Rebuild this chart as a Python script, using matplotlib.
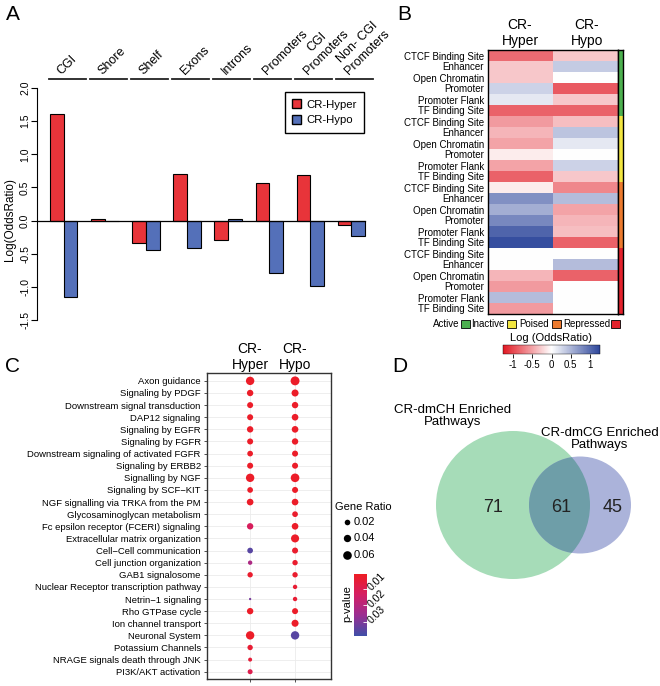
import numpy as np
import matplotlib
matplotlib.use('Agg')
import matplotlib.pyplot as plt
import matplotlib.transforms as mtransforms
from matplotlib.colors import LinearSegmentedColormap, ListedColormap
from matplotlib.patches import Rectangle, Ellipse, Patch

plt.rcParams['font.family'] = ['Liberation Sans', 'DejaVu Sans']

# ---- data -------------------------------------------------------------
# panel A
regions = ["CGI", "Shore", "Shelf", "Exons", "Introns", "Promoters",
           "CGI\nPromoters", "Non- CGI\nPromoters"]
a_hyper = [1.60, 0.03, -0.34, 0.71, -0.30, 0.56, 0.69, -0.06]
a_hypo = [-1.16, 0.0, -0.45, -0.42, 0.02, -0.79, -0.99, -0.23]

# panel B
states = ["Active", "Inactive", "Poised", "Repressed"]
features = ["CTCF Binding Site", "Enhancer", "Open Chromatin", "Promoter",
            "Promoter Flank", "TF Binding Site"]
b_hyper = [-0.80, -0.30, -0.30, 0.30, 0.15, -0.85,
           -0.55, -0.40, -0.50, -0.10, -0.50, -0.85,
           -0.10, 0.75, 0.55, 0.80, 1.05, 1.20,
           0.00, 0.00, -0.40, -0.55, 0.45, -0.55]
b_hypo = [-0.30, 0.35, 0.00, -0.90, -0.30, -0.85,
          -0.35, 0.40, 0.15, 0.00, 0.30, -0.30,
          -0.65, 0.45, -0.50, -0.40, -0.35, -0.85,
          0.00, 0.45, -0.85, 0.00, 0.00, 0.00]

# panel C
pathways = ["Axon guidance", "Signaling by PDGF", "Downstream signal transduction",
            "DAP12 signaling", "Signaling by EGFR", "Signaling by FGFR",
            "Downstream signaling of activated FGFR", "Signaling by ERBB2",
            "Signalling by NGF", "Signaling by SCF\u2212KIT",
            "NGF signalling via TRKA from the PM", "Glycosaminoglycan metabolism",
            "Fc epsilon receptor (FCERI) signaling", "Extracellular matrix organization",
            "Cell\u2212Cell communication", "Cell junction organization",
            "GAB1 signalosome", "Nuclear Receptor transcription pathway",
            "Netrin\u22121 signaling", "Rho GTPase cycle", "Ion channel transport",
            "Neuronal System", "Potassium Channels", "NRAGE signals death through JNK",
            "PI3K/AKT activation"]
nan = np.nan
c_hyper_ratio = [0.056, 0.028, 0.024, 0.024, 0.028, 0.024, 0.021, 0.024, 0.056, 0.021,
                 0.031, nan, 0.028, nan, 0.021, 0.011, 0.018, nan, 0.005, 0.028,
                 nan, 0.056, 0.018, 0.009, 0.015]
c_hyper_p = [0.002, 0.002, 0.002, 0.002, 0.002, 0.002, 0.002, 0.002, 0.002, 0.002,
             0.002, nan, 0.012, nan, 0.035, 0.022, 0.003, nan, 0.031, 0.002,
             nan, 0.002, 0.004, 0.005, 0.009]
c_hypo_ratio = [0.065, 0.036, 0.028, 0.031, 0.031, 0.028, 0.024, 0.024, 0.060, 0.024,
                0.031, 0.021, 0.031, 0.051, 0.024, 0.018, 0.018, 0.011, 0.011, 0.024,
                0.036, 0.056, nan, nan, nan]
c_hypo_p = [0.002, 0.002, 0.002, 0.002, 0.002, 0.002, 0.002, 0.002, 0.002, 0.002,
            0.002, 0.003, 0.002, 0.002, 0.003, 0.003, 0.003, 0.004, 0.004, 0.002,
            0.002, 0.035, nan, nan, nan]
ratio_legend = [0.02, 0.04, 0.06]

# panel D
venn_labels = ["CR-dmCH Enriched\nPathways", "CR-dmCG Enriched\nPathways"]
venn_counts = [71, 61, 45]

# ---- layout helpers -----------------------------------------------------
W, H = 660, 686


def px(l, t, r, b):
    return [l / W, 1 - b / H, (r - l) / W, (b - t) / H]


def fx(x):
    return x / W


def fy(y):
    return 1 - y / H


red = '#E8343A'
blue = '#5470B9'

fig = plt.figure(figsize=(6.6, 6.86), dpi=100)

for lab, x, y in [("A", 13, 14), ("B", 404, 14), ("C", 13, 366), ("D", 400, 366)]:
    fig.text(fx(x), fy(y), lab, fontsize=15, ha='center', va='center')

# ---- panel A ------------------------------------------------------------
axA = fig.add_axes(px(37, 84, 372, 326))
g = np.arange(len(regions))
axA.bar(3 * g + 1.5, a_hyper, width=1, color=red, edgecolor='black', lw=0.8)
axA.bar(3 * g + 2.5, a_hypo, width=1, color=blue, edgecolor='black', lw=0.8)
axA.set_xlim(0.05, 24.5)
axA.set_ylim(-1.59, 2.06)
axA.axhline(0, xmin=0, xmax=(24 - 0.05) / (24.5 - 0.05), color='black', lw=0.9)
for s in ['top', 'right', 'bottom']:
    axA.spines[s].set_visible(False)
axA.spines['left'].set_bounds(-1.5, 2.0)
axA.set_xticks([])
yt = np.arange(-1.5, 2.01, 0.5)
axA.set_yticks(yt)
axA.set_yticklabels(["%.1f" % v for v in yt], rotation=90, va='center', fontsize=7.5)
axA.tick_params(axis='y', length=4, width=0.8, pad=1)
fig.text(fx(10), fy(220), "Log(OddsRatio)", rotation=90, ha='center', va='center', fontsize=8.5)

tr = mtransforms.blended_transform_factory(axA.transData, axA.transAxes)
for i, name in enumerate(regions):
    axA.plot([3 * i + 0.9, 3 * i + 3.6], [1.0207, 1.0207], color='#222222', lw=1.3,
             transform=tr, clip_on=False)
    axA.text(3 * i + 2.0, 1.03, name, transform=tr, rotation=45, rotation_mode='anchor',
             ha='left', va='bottom', multialignment='center', fontsize=9)

handles = [Patch(facecolor=red, edgecolor='black', label='CR-Hyper'),
           Patch(facecolor=blue, edgecolor='black', label='CR-Hypo')]
leg = axA.legend(handles=handles, loc='upper right', bbox_to_anchor=(fx(364), fy(92)),
                 bbox_transform=fig.transFigure, borderaxespad=0, fancybox=False,
                 edgecolor='black', framealpha=1, fontsize=8.2, handlelength=0.8,
                 handleheight=0.8, handletextpad=0.45, borderpad=0.65, labelspacing=0.45)
leg.get_frame().set_linewidth(1)

# ---- panel B ------------------------------------------------------------
hm_cmap = LinearSegmentedColormap.from_list('hm', ['#E11923', '#ffffff', '#2D469B'])
axB = fig.add_axes(px(488, 50, 618, 314))
mat = np.column_stack([b_hyper, b_hypo])
im = axB.imshow(mat, cmap=hm_cmap, vmin=-1.26, vmax=1.26, aspect='auto',
                interpolation='nearest')
axB.set_xticks([])
axB.set_yticks(np.arange(len(b_hyper)))
axB.set_yticklabels(features * len(states), fontsize=7)
axB.tick_params(axis='y', length=0, pad=3)
for s in axB.spines.values():
    s.set_linewidth(1)
fig.text(fx(520), fy(33), "CR-\nHyper", ha='center', va='center', fontsize=10)
fig.text(fx(587), fy(33), "CR-\nHypo", ha='center', va='center', fontsize=10)

state_cols = ['#4CB04F', '#F2E640', '#EC7A2E', '#E4222C']
axS = fig.add_axes(px(618, 50, 623, 314))
axS.imshow(np.repeat(np.arange(len(states)), len(features))[:, None],
           cmap=ListedColormap(state_cols), aspect='auto', interpolation='nearest')
axS.set_xticks([])
axS.set_yticks([])
for s in axS.spines.values():
    s.set_linewidth(1)

# state legend: label first, then its colour box
leg_pos = [(459, 461), (505, 507), (549, 552), (610, 611)]
for name, col, (tx, bx) in zip(states, state_cols, leg_pos):
    fig.text(fx(tx), fy(324), name, ha='right', va='center', fontsize=7)
    fig.add_artist(Rectangle((fx(bx), fy(328)), 9 / W, 8 / H, transform=fig.transFigure,
                             facecolor=col, edgecolor='black', lw=0.6))

caxB = fig.add_axes(px(503, 345, 600, 354))
cb = fig.colorbar(im, cax=caxB, orientation='horizontal', ticks=[-1, -0.5, 0, 0.5, 1])
cb.ax.set_xticklabels(['-1', '-0.5', '0', '0.5', '1'], fontsize=7)
cb.ax.tick_params(length=3, width=0.6, pad=1)
cb.outline.set_linewidth(0.3)
fig.text(fx(551), fy(338), "Log (OddsRatio)", ha='center', va='center', fontsize=8)

# ---- panel C ------------------------------------------------------------
p_cmap = LinearSegmentedColormap.from_list('p', ['#EE1D24', '#D41E63', '#9A2E92', '#3F4FA8'])
p_min, p_max = 0.0009, 0.0385


def dot_size(r):
    d = 2.3 + 6.6 * np.sqrt((np.asarray(r, dtype=float) - 0.005) / 0.06)
    return (d * 0.72) ** 2


axC = fig.add_axes(px(207, 373, 331, 679))
rows = np.arange(len(pathways))
for col, ratio, pv in [(1, c_hyper_ratio, c_hyper_p), (2, c_hypo_ratio, c_hypo_p)]:
    ratio = np.array(ratio)
    ok = ~np.isnan(ratio)
    axC.scatter(np.full(ok.sum(), col), rows[ok], s=dot_size(ratio[ok]),
                c=np.array(pv)[ok], cmap=p_cmap, vmin=p_min, vmax=p_max,
                linewidths=0, zorder=3)
axC.set_xlim(0.04, 2.8)
axC.set_ylim(len(pathways) - 1 + 0.6, -0.65)
axC.set_xticks([1, 2])
axC.set_xticklabels([])
axC.set_yticks(rows)
axC.set_yticklabels(pathways, fontsize=6.8)
axC.tick_params(length=2.5, width=0.6, color='#333333', pad=2)
axC.grid(color='#ebebeb', lw=0.6)
axC.set_axisbelow(True)
for s in axC.spines.values():
    s.set_color('#333333')
    s.set_linewidth(1)
fig.text(fx(250), fy(357), "CR-\nHyper", ha='center', va='center', fontsize=10)
fig.text(fx(295), fy(357), "CR-\nHypo", ha='center', va='center', fontsize=10)

# p-value colorbar
caxC = fig.add_axes(px(354, 574, 367, 636))
sm = plt.cm.ScalarMappable(cmap=p_cmap, norm=plt.Normalize(p_min, p_max))
cbC = fig.colorbar(sm, cax=caxC, ticks=[0.01, 0.02, 0.03])
caxC.invert_yaxis()
cbC.outline.set_visible(False)
caxC.tick_params(direction='in', color='white', length=3, width=0.6, pad=2)
caxC.set_yticklabels(['0.01', '0.02', '0.03'], rotation=45, rotation_mode='anchor',
                     ha='left', va='center', fontsize=7.5)
fig.text(fx(347), fy(604), "p-value", rotation=90, ha='center', va='center', fontsize=8)

# ---- overlay (gene ratio legend, venn) -----------------------------------
ov = fig.add_axes([0, 0, 1, 1])
ov.set_xlim(0, W)
ov.set_ylim(H, 0)
ov.axis('off')

fig.text(fx(335), fy(507), "Gene Ratio", ha='left', va='center', fontsize=8)
for r, y in zip(ratio_legend, [522, 538, 555]):
    ov.scatter([347], [y], s=dot_size(r), color='black', linewidths=0)
    ov.text(354, y, "%.2f" % r, ha='left', va='center', fontsize=8)

green_c = '#A6DCB8'
lav_c = '#ABB3DA'
over_c = '#6E9EA8'
e1 = Ellipse((513, 505), 154, 148, facecolor=green_c, edgecolor='none')
e2 = Ellipse((580, 505), 102, 97, facecolor=lav_c, edgecolor='none')
e3 = Ellipse((580, 505), 102, 97, facecolor=over_c, edgecolor='none')
ov.add_patch(e1)
ov.add_patch(e2)
ov.add_patch(e3)
e3.set_clip_path(e1)
for n, x in zip(venn_counts, [493, 561, 613]):
    ov.text(x, 507, str(n), ha='center', va='center', fontsize=13, color='#222222')
ov.text(453, 416, venn_labels[0], ha='center', va='center', fontsize=9.5, linespacing=1.1)
ov.text(600, 439, venn_labels[1], ha='center', va='center', fontsize=9.5, linespacing=1.1)

plt.savefig('out.png', dpi=100)
